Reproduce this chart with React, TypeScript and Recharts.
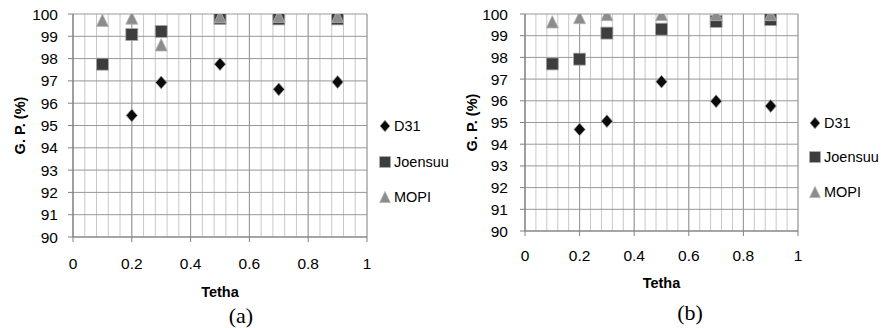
import React from 'react';
import { ScatterChart, Scatter, XAxis, YAxis, CartesianGrid, Label } from 'recharts';

// x positions (Tetha) shared by every series
const tetha = [0.1, 0.2, 0.3, 0.5, 0.7, 0.9];

// panel (a)
const d31A = [null, 95.45, 96.93, 97.75, 96.62, 96.95];
const joensuuA = [97.75, 99.08, 99.22, 99.8, 99.78, 99.78];
const mopiA = [99.72, 99.82, 98.62, 99.88, 99.9, 99.9];

// panel (b)
const d31B = [null, 94.68, 95.06, 96.88, 95.98, 95.76];
const joensuuB = [97.7, 97.92, 99.12, 99.3, 99.66, 99.74];
const mopiB = [99.64, 99.84, 99.98, 99.98, 99.98, 99.98];

const seriesNames = ['D31', 'Joensuu', 'MOPI'];
const xTicks = [0, 0.2, 0.4, 0.6, 0.8, 1];
const xMinorTicks = [
  0, 0.04, 0.08, 0.12, 0.16, 0.2, 0.24, 0.28, 0.32, 0.36, 0.4, 0.44, 0.48,
  0.52, 0.56, 0.6, 0.64, 0.68, 0.72, 0.76, 0.8, 0.84, 0.88, 0.92, 0.96, 1,
];
const yTicks = [90, 91, 92, 93, 94, 95, 96, 97, 98, 99, 100];

const FONT = '"Liberation Sans", Arial, sans-serif';

type Kind = 'diamond' | 'square' | 'triangle';

const STYLES: { kind: Kind; fill: string; stroke: string }[] = [
  { kind: 'diamond', fill: '#0a0a0a', stroke: '#9a9a9a' },
  { kind: 'square', fill: '#3d3d3d', stroke: '#a8a8a8' },
  { kind: 'triangle', fill: '#8c8c8c', stroke: '#b4b4b4' },
];

const Marker = ({ cx, cy, kind, fill, stroke, s = 1 }: any) => {
  if (cx == null || cy == null) return null;
  if (kind === 'diamond') {
    const w = 5.6 * s;
    const h = 6.4 * s;
    return (
      <polygon
        points={`${cx},${cy - h} ${cx + w},${cy} ${cx},${cy + h} ${cx - w},${cy}`}
        fill={fill}
        stroke={stroke}
        strokeWidth={0.8}
      />
    );
  }
  if (kind === 'square') {
    const r = 6 * s;
    return (
      <rect x={cx - r} y={cy - r} width={2 * r} height={2 * r} fill={fill} stroke={stroke} strokeWidth={0.8} />
    );
  }
  const w = 6 * s;
  const h = 6.2 * s;
  return (
    <polygon
      points={`${cx},${cy - h} ${cx + w},${cy + h} ${cx - w},${cy + h}`}
      fill={fill}
      stroke={stroke}
      strokeWidth={0.8}
    />
  );
};

const toPoints = (values: (number | null)[]) =>
  tetha
    .map((x, i) => ({ x, y: values[i] }))
    .filter((p) => p.y != null);

interface PanelProps {
  left: number;
  width: number;
  plotLeft: number;
  plotRight: number;
  plotTop: number;
  plotBottom: number;
  series: (number | null)[][];
  tickMarginX: number;
  tickMarginY: number;
  titleOffset: number;
  yLabelX: number;
  legendX: number;
  legendY: number[];
  caption: string;
  captionX: number;
  captionY: number;
}

const Panel = (p: PanelProps) => {
  const height = 328;
  const axisColor = '#808080';
  return (
    <div style={{ position: 'absolute', left: p.left, top: 0, width: p.width, height }}>
      <ScatterChart
        width={p.width}
        height={height}
        margin={{ top: p.plotTop, right: p.width - p.plotRight, bottom: 0, left: 0 }}
      >
        <CartesianGrid
          horizontal={false}
          verticalValues={xMinorTicks}
          stroke="#c8c8c8"
          strokeWidth={1}
        />
        <CartesianGrid
          horizontalValues={yTicks}
          verticalValues={xTicks}
          stroke="#989898"
          strokeWidth={1}
        />
        <XAxis
          type="number"
          dataKey="x"
          domain={[0, 1]}
          ticks={xTicks}
          height={height - p.plotBottom}
          tickSize={5}
          tickMargin={p.tickMarginX}
          stroke={axisColor}
          tick={{ fill: '#000', fontSize: 15.5, fontFamily: FONT }}
          interval={0}
        >
          <Label
            value="Tetha"
            position="insideTop"
            offset={p.titleOffset}
            style={{ fontWeight: 'bold', fontSize: 14.5, fontFamily: FONT, fill: '#000' }}
          />
        </XAxis>
        <YAxis
          type="number"
          dataKey="y"
          domain={[90, 100]}
          ticks={yTicks}
          width={p.plotLeft}
          tickSize={5}
          tickMargin={p.tickMarginY}
          stroke={axisColor}
          tick={{ fill: '#000', fontSize: 15.5, fontFamily: FONT }}
          interval={0}
          allowDataOverflow
        >
          <Label
            value="G. P. (%)"
            angle={-90}
            position="insideLeft"
            offset={p.yLabelX}
            style={{ fontWeight: 'bold', fontSize: 14.5, fontFamily: FONT, fill: '#000', textAnchor: 'middle' }}
          />
        </YAxis>
        {p.series.map((values, i) => (
          <Scatter
            key={seriesNames[i]}
            name={seriesNames[i]}
            data={toPoints(values)}
            isAnimationActive={false}
            shape={(props: any) => <Marker {...props} {...STYLES[i]} />}
          />
        ))}
      </ScatterChart>
      {seriesNames.map((name, i) => (
        <div
          key={name}
          style={{
            position: 'absolute',
            left: p.legendX - 7,
            top: p.legendY[i] - 10,
            height: 20,
            display: 'flex',
            alignItems: 'center',
            fontFamily: FONT,
            fontSize: 14.5,
            color: '#000',
            whiteSpace: 'nowrap',
          }}
        >
          <svg width={14} height={20} style={{ display: 'block' }}>
            <Marker cx={7} cy={10} s={0.9} {...STYLES[i]} />
          </svg>
          <span style={{ marginLeft: 2 }}>{name}</span>
        </div>
      ))}
      <div
        style={{
          position: 'absolute',
          left: p.captionX - 30,
          width: 60,
          top: p.captionY - 13,
          height: 26,
          lineHeight: '26px',
          textAlign: 'center',
          fontFamily: '"Liberation Serif", "Times New Roman", serif',
          fontSize: 22,
          color: '#000',
        }}
      >
        {p.caption}
      </div>
    </div>
  );
};

export default function App() {
  return (
    <div style={{ position: 'absolute', left: 0, top: 0, width: 881, height: 328, background: '#fff', overflow: 'hidden' }}>
      <Panel
        left={0}
        width={440}
        plotLeft={73}
        plotRight={367}
        plotTop={14}
        plotBottom={237}
        series={[d31A, joensuuA, mopiA]}
        tickMarginX={16}
        tickMarginY={10}
        titleOffset={50}
        yLabelX={20}
        legendX={385}
        legendY={[126, 162, 197]}
        caption="(a)"
        captionX={241}
        captionY={316}
      />
      <Panel
        left={440}
        width={441}
        plotLeft={85}
        plotRight={358}
        plotTop={14}
        plotBottom={231}
        series={[d31B, joensuuB, mopiB]}
        tickMarginX={14}
        tickMarginY={12}
        titleOffset={47}
        yLabelX={32}
        legendX={375}
        legendY={[123, 157, 192]}
        caption="(b)"
        captionX={250}
        captionY={313}
      />
    </div>
  );
}
